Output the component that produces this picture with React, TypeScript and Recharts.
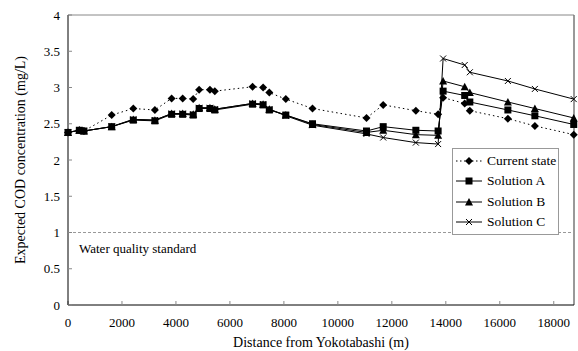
import React from 'react';
import { LineChart, Line, XAxis, YAxis, ReferenceLine, Legend } from 'recharts';

// distance from Yokotabashi (m)
const distances = [0, 420, 590, 1620, 2420, 3220, 3840, 4250, 4640, 4860, 5260, 5440, 6840, 7230, 7460, 8070, 9060, 11060, 11680, 12890, 13715, 13900, 14700, 14890, 16300, 17300, 18740];

// expected COD concentration (mg/L)
const currentState = [2.38, 2.41, 2.40, 2.62, 2.71, 2.69, 2.85, 2.85, 2.84, 2.97, 2.97, 2.95, 3.01, 3.0, 2.93, 2.84, 2.71, 2.58, 2.76, 2.68, 2.63, 2.86, 2.78, 2.68, 2.57, 2.47, 2.35];
const solutionA = [2.38, 2.41, 2.40, 2.46, 2.55, 2.54, 2.63, 2.63, 2.62, 2.71, 2.71, 2.69, 2.77, 2.76, 2.69, 2.62, 2.50, 2.40, 2.46, 2.41, 2.40, 2.95, 2.89, 2.80, 2.69, 2.61, 2.49];
const solutionB = [2.38, 2.41, 2.40, 2.46, 2.56, 2.55, 2.64, 2.64, 2.63, 2.72, 2.72, 2.70, 2.78, 2.77, 2.70, 2.62, 2.49, 2.38, 2.41, 2.35, 2.34, 3.09, 3.01, 2.93, 2.80, 2.71, 2.58];
const solutionC = [2.38, 2.41, 2.40, 2.46, 2.56, 2.55, 2.64, 2.64, 2.63, 2.72, 2.72, 2.70, 2.78, 2.77, 2.70, 2.61, 2.48, 2.36, 2.31, 2.24, 2.22, 3.40, 3.31, 3.21, 3.09, 2.98, 2.84];

const xTicks = [0, 2000, 4000, 6000, 8000, 10000, 12000, 14000, 16000, 18000];
const yTicks = [0, 0.5, 1, 1.5, 2, 2.5, 3, 3.5, 4];
const X_MAX = 18750;
const STANDARD = 1;

const data = distances.map((d, i) => ({
  d,
  current: currentState[i],
  a: solutionA[i],
  b: solutionB[i],
  c: solutionC[i],
}));

const FONT = '"Liberation Serif", "Times New Roman", serif';

type Shape = 'diamond' | 'square' | 'triangle' | 'cross';

const marker = (shape: Shape, cx: number, cy: number, key?: any) => {
  switch (shape) {
    case 'diamond':
      return <path key={key} d={`M${cx},${cy - 4}L${cx + 4},${cy}L${cx},${cy + 4}L${cx - 4},${cy}Z`} fill="#000" />;
    case 'square':
      return <rect key={key} x={cx - 3.5} y={cy - 3.5} width={7} height={7} fill="#000" />;
    case 'triangle':
      return <path key={key} d={`M${cx},${cy - 4}L${cx + 4},${cy + 3.5}L${cx - 4},${cy + 3.5}Z`} fill="#000" />;
    default:
      return (
        <path key={key} d={`M${cx - 3},${cy - 3}L${cx + 3},${cy + 3}M${cx - 3},${cy + 3}L${cx + 3},${cy - 3}`} stroke="#000" strokeWidth={1} fill="none" />
      );
  }
};

const dotFor = (shape: Shape) => (props: any) => marker(shape, props.cx, props.cy, `${shape}-${props.index}`);

const legendItems: { label: string; shape: Shape; dash?: string }[] = [
  { label: 'Current state', shape: 'diamond', dash: '1.5 2.5' },
  { label: 'Solution A', shape: 'square' },
  { label: 'Solution B', shape: 'triangle' },
  { label: 'Solution C', shape: 'cross' },
];

const renderLegend = () => (
  <div style={{ border: '1px solid #999', background: '#fff', width: 105, padding: '2px 0', fontFamily: FONT, fontSize: 13.5 }}>
    {legendItems.map((it) => (
      <div key={it.label} style={{ display: 'flex', alignItems: 'center', height: 20.3 }}>
        <svg width={32} height={12} style={{ marginLeft: 2 }}>
          <line x1={1} y1={6} x2={27} y2={6} stroke="#000" strokeWidth={1} strokeDasharray={it.dash} />
          {marker(it.shape, 14, 6)}
        </svg>
        <span style={{ marginLeft: 0, whiteSpace: 'nowrap' }}>{it.label}</span>
      </div>
    ))}
  </div>
);

export default function App() {
  return (
    <div style={{ position: 'absolute', left: 0, top: 0, width: 578, height: 351, background: '#fff' }}>
      <LineChart width={578} height={351} data={data} margin={{ top: 15, right: 4, bottom: 0, left: 20 }}>
        <XAxis
          dataKey="d"
          type="number"
          domain={[0, X_MAX]}
          ticks={xTicks}
          interval={0}
          height={46}
          axisLine={{ stroke: '#000' }}
          tickLine={{ stroke: '#888' }}
          tickSize={-4}
          tickMargin={17}
          tick={{ fill: '#000', fontSize: 13, fontFamily: FONT }}
          label={{ value: 'Distance from Yokotabashi (m)', position: 'insideBottom', offset: 4, fill: '#000', fontSize: 14, fontFamily: FONT }}
        />
        <YAxis
          type="number"
          domain={[0, 4]}
          ticks={yTicks}
          interval={0}
          width={48}
          axisLine={{ stroke: '#000' }}
          tickLine={{ stroke: '#888' }}
          tickSize={-4}
          tickMargin={12}
          tick={{ fill: '#000', fontSize: 13, fontFamily: FONT }}
          label={{ value: 'Expected COD concentration (mg/L)', angle: -90, position: 'insideLeft', offset: 0, fill: '#000', fontSize: 14, fontFamily: FONT, style: { textAnchor: 'middle' } }}
        />
        <ReferenceLine y={4} stroke="#888" />
        <ReferenceLine x={X_MAX} stroke="#777" strokeWidth={1.5} />
        <ReferenceLine
          y={STANDARD}
          stroke="#999"
          strokeDasharray="3 2"
          label={{ value: 'Water quality standard', position: 'insideTopLeft', offset: 11, fill: '#000', fontSize: 13, fontFamily: FONT }}
        />
        <Line dataKey="current" stroke="#000" strokeWidth={1} strokeDasharray="1.5 3" dot={dotFor('diamond')} isAnimationActive={false} />
        <Line dataKey="a" stroke="#000" strokeWidth={1} dot={dotFor('square')} isAnimationActive={false} />
        <Line dataKey="b" stroke="#000" strokeWidth={1} dot={dotFor('triangle')} isAnimationActive={false} />
        <Line dataKey="c" stroke="#000" strokeWidth={1} dot={dotFor('cross')} isAnimationActive={false} />
        <Legend
          layout="vertical"
          align="center"
          verticalAlign="middle"
          content={renderLegend}
          wrapperStyle={{ left: 452, top: 148, width: 107 }}
        />
      </LineChart>
    </div>
  );
}
